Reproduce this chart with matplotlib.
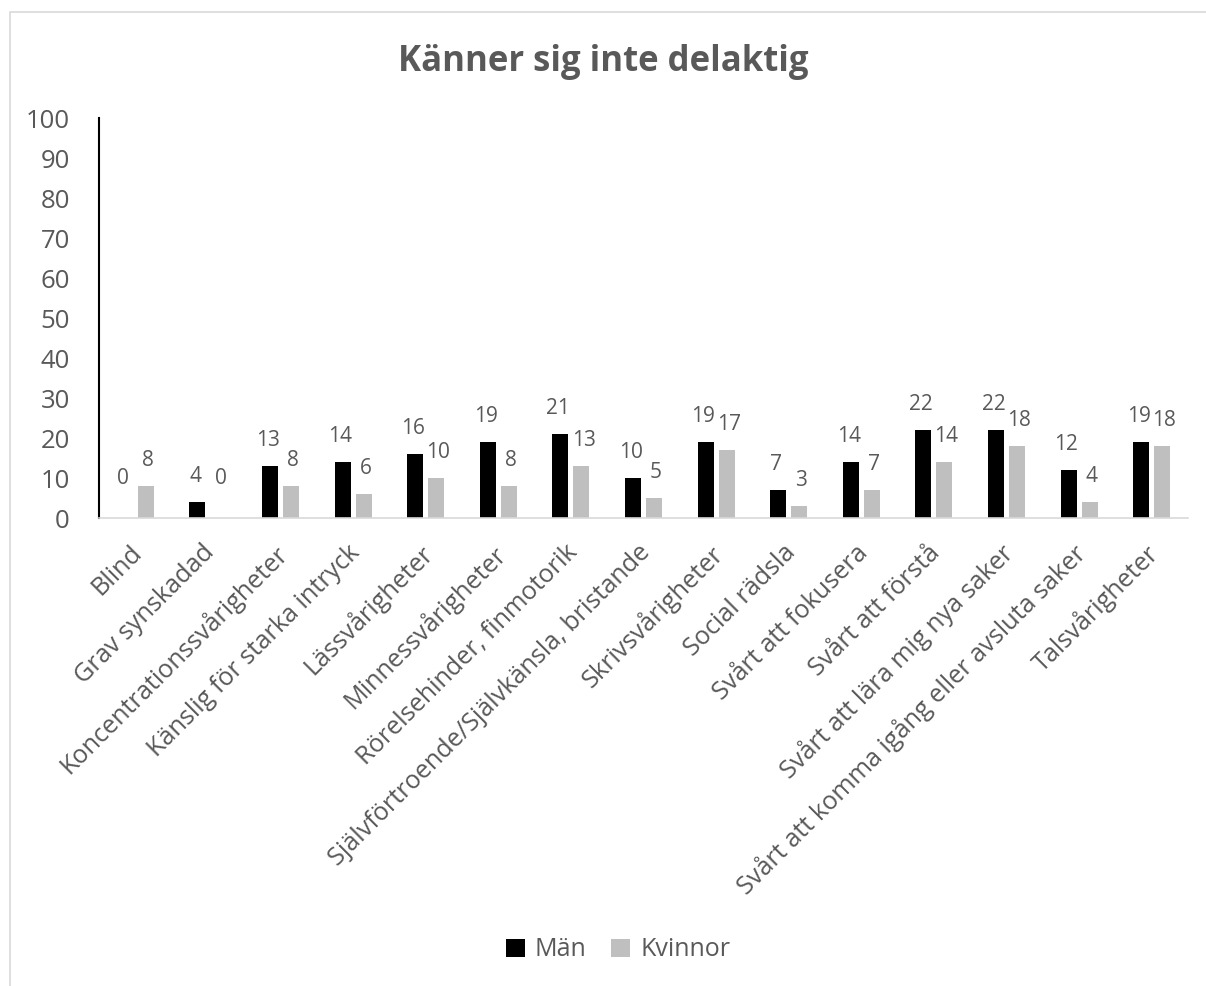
import matplotlib
matplotlib.use("Agg")
import matplotlib.pyplot as plt
import matplotlib.transforms as mtransforms
import numpy as np
from matplotlib.patches import Rectangle

categories = ["Blind", "Grav synskadad", "Koncentrationssvårigheter",
              "Känslig för starka intryck", "Lässvårigheter", "Minnessvårigheter",
              "Rörelsehinder, finmotorik", "Självförtroende/Självkänsla, bristande",
              "Skrivsvårigheter", "Social rädsla", "Svårt att fokusera",
              "Svårt att förstå", "Svårt att lära mig nya saker",
              "Svårt att komma igång eller avsluta saker", "Talsvårigheter"]
man = [0, 4, 13, 14, 16, 19, 21, 10, 19, 7, 14, 22, 22, 12, 19]
kvinnor = [8, 0, 8, 6, 10, 8, 13, 5, 17, 3, 7, 14, 18, 4, 18]

grey_txt = "#595959"
plt.rcParams['font.family'] = ['Open Sans', 'DejaVu Sans']

fig = plt.figure(figsize=(12.06, 9.86), dpi=100)
fig.patches.append(Rectangle((10 / 1206, -0.1), 1.2, 0.1 + (986 - 12) / 986,
                             transform=fig.transFigure, fill=False,
                             edgecolor="#d9d9d9", linewidth=1.2))
ax = fig.add_axes([99 / 1206, 1 - 518 / 986, (1188 - 99) / 1206, 400 / 986])

x = np.arange(len(categories))
w = 0.22
b1 = ax.bar(x - w / 2 - 0.035, man, w, color="black", label="Män")
b2 = ax.bar(x + w / 2 + 0.035, kvinnor, w, color="#bfbfbf", label="Kvinnor")

# etiketter ovanför staplarna, lite isär så att de inte krockar
for bars, dx in ((b1, -1.5), (b2, 1.5)):
    for r in bars:
        h = r.get_height()
        off = 11 if h > 0 else 21
        ax.annotate(f"{h:g}", (r.get_x() + r.get_width() / 2, h), xytext=(dx, off),
                    textcoords="offset points", ha="center", va="bottom",
                    fontsize=15, color=grey_txt)

ax.set_xlim(-0.5, len(categories) - 0.5)
ax.set_ylim(0, 100)
ax.set_yticks(range(0, 101, 10))
ax.tick_params(axis="y", length=0, labelsize=18.5, labelcolor=grey_txt, pad=21)
ax.set_xticks(x)
ax.set_xticklabels(categories, rotation=45, ha="right", rotation_mode="anchor",
                   fontsize=18.2, color=grey_txt)
ax.tick_params(axis="x", length=0, pad=16)
shift = mtransforms.ScaledTranslation(-6 / 100, 0, fig.dpi_scale_trans)
for lab in ax.get_xticklabels():
    lab.set_transform(lab.get_transform() + shift)

for s in ("top", "right"):
    ax.spines[s].set_visible(False)
ax.spines["left"].set_color("black")
ax.spines["left"].set_linewidth(1.5)
ax.spines["bottom"].set_color("#d9d9d9")
ax.spines["bottom"].set_linewidth(1.2)

fig.text(0.5, 1 - 62 / 986, "Känner sig inte delaktig", ha="center", va="center",
         fontsize=25, fontweight="bold", color=grey_txt)

fig.legend(loc="center", bbox_to_anchor=(618 / 1206, 1 - 950 / 986), ncol=2, frameon=False,
           fontsize=18, handlelength=0.75, handleheight=0.75, handletextpad=0.4,
           columnspacing=1.0, labelcolor=grey_txt)

fig.savefig("out.png", dpi=100)
